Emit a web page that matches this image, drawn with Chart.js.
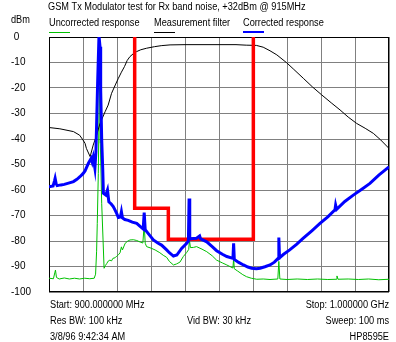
<!DOCTYPE html>
<html>
<head>
<meta charset="utf-8">
<script src="https://cdn.jsdelivr.net/npm/chart.js@4/dist/chart.umd.min.js"></script>
<style>
html,body{margin:0;padding:0;background:#fff;}
canvas{display:block;}
</style>
</head>
<body>
<canvas id="c" width="396" height="342"></canvas>
<script>
// ---- Data (frequency in MHz, level in dBm) ----
const titleText = "GSM Tx Modulator test for Rx band noise, +32dBm @ 915MHz";
const yUnit = "dBm";
const seriesNames = ["Uncorrected response", "Measurement filter", "Corrected response"];

const uncorrMHz = [900,901.3,901.7,901.9,902.2,903,904.5,906,907.5,909,910.5,912,913.3,913.7,914.0,914.2,914.5,914.8,915.0,915.1,915.5,915.9,916.2,916.6,917.0,917.4,917.9,918.4,918.8,919.4,920.0,920.5,920.9,921.3,921.6,922.4,923.1,923.8,924.8,925.8,926.8,927.6,928.0,928.3,928.7,930,931.2,932.6,933.6,934.6,935.4,936.6,937.5,938.5,939.5,940.5,941.1,941.3,941.6,942.5,943.4,945,946.4,948,949.3,951,952.3,953.5,954.1,954.3,954.5,955.5,957,958.1,959.5,961.1,963,965,967.3,967.6,967.9,970,973,976,979,982,984.5,984.7,985,988,991,994,997,1000];
const uncorrDbm = [-94.6,-94.8,-92.5,-91.4,-94.3,-94.9,-94.5,-94.9,-94.6,-94.9,-94.6,-94.8,-94.6,-93.0,-84.0,-73.1,-53.5,-19.5,-22,-41.7,-65.2,-79.6,-90.7,-89.6,-88.8,-87.9,-87.5,-87.8,-86.8,-86.6,-85.8,-85.3,-84.6,-82.3,-83.5,-80.9,-80.1,-79.6,-79.5,-79.8,-80.4,-80.8,-73.7,-80.9,-82.2,-82.8,-83.5,-84.6,-85.6,-86.4,-88.0,-89.4,-89.0,-88.3,-86.1,-84.5,-83.3,-79.6,-82.6,-82.5,-82.2,-83.2,-84.2,-85.8,-87.5,-88.6,-89.4,-90.2,-90.6,-86.8,-90.9,-91.8,-93.2,-94.0,-94.6,-95.0,-94.9,-95.1,-94.9,-88.0,-94.9,-95.1,-94.9,-95.1,-94.9,-95.1,-95.0,-93.7,-95.0,-94.9,-95.1,-94.9,-95.2,-95.0];

const filterMHz = [900,903.2,907.2,909,910,910.6,911,912.1,913,914,915,916.5,917.4,918.4,919.5,920.4,921.3,922.2,923,923.8,925,925.8,927,928.7,931,933,935.6,940,950,955,958,961,963,965,967,969.9,972,974.8,977.5,980.2,983,985.6,988,990.5,993,995.4,997.5,1000];
const filterDbm = [-35.5,-36,-37.1,-38.5,-40.4,-41.7,-43.7,-46.9,-42.4,-38.5,-33.9,-29.3,-26.7,-22.1,-18.8,-16.2,-13.8,-11.6,-9.2,-7.7,-6.3,-5.7,-5.0,-4.4,-3.8,-3.4,-3.1,-3.0,-3.0,-3.0,-3.2,-3.3,-4.0,-5.4,-7.0,-10.1,-12.7,-16.2,-19.6,-22.7,-25.8,-28.6,-31.4,-33.9,-35.8,-37.8,-40.3,-43.7];

const corrMHz = [900,901.2,901.6,901.8,902.1,902.4,903.5,904.5,906,907.2,908.2,909.1,910,910.6,911.6,912.4,912.7,913.0,913.5,913.8,914.0,914.3,914.7,915.0,915.2,915.5,915.8,916.0,916.7,917.2,917.6,918.3,918.9,919.4,919.9,920.4,921.0,921.3,921.6,922.3,923.3,924.5,925.8,926.8,927.7,928.0,928.3,929.5,930.7,932,933.1,934.6,935.4,936.6,937.6,939,940.5,941.0,941.2,941.4,941.7,943.4,944.3,944.6,946.4,948,949.3,951,952.3,954.1,954.3,954.5,955.8,957.2,958.5,959.6,961,962.1,963.5,965,966.3,967.4,967.6,967.8,969,970.8,972.8,974.8,977.3,979.7,982,984.1,984.3,984.6,987,989.5,992,994.4,997,1000];
const corrDbm = [-58.7,-58.4,-56.5,-55.4,-57.5,-58.3,-58.0,-57.8,-57.2,-56.7,-55.8,-54.8,-53.6,-52.5,-49.5,-47.6,-49.0,-47.2,-51.5,-45,-34.5,-18.2,0.5,-3.8,-20.8,-40.4,-51.6,-61.3,-62.0,-60.0,-64.6,-65.5,-66.5,-67.8,-69.2,-70.8,-70.6,-68.5,-70.9,-71.6,-71.9,-72.6,-73.1,-74.3,-75.3,-68.9,-75.6,-77.6,-79.6,-80.8,-81.6,-83.5,-84.6,-85.9,-85.5,-82.9,-80.9,-80.0,-63.3,-79.2,-79.1,-78.9,-78.0,-79.2,-80.3,-82.2,-83.8,-85.2,-86.1,-86.8,-80.9,-87.2,-88.4,-89.4,-90.2,-90.7,-90.9,-90.7,-90.1,-89.4,-88.3,-86.8,-78.6,-86.6,-85.2,-83.5,-81.3,-78.9,-76.0,-73.1,-70.5,-67.8,-65.9,-67.6,-64.5,-62.0,-59.7,-57.4,-54.2,-50.9];

const maskMHz = [925.2,925.2,935.1,935.1,960.1,960.1];
const maskDbm = [0.5,-67.2,-67.2,-79.3,-79.3,0.5];

const footerLeft  = ["Start: 900.000000 MHz", "Res BW: 100 kHz", "3/8/96 9:42:34 AM"];
const footerMid   = ["", "Vid BW: 30 kHz", ""];
const footerRight = ["Stop: 1.000000 GHz", "Sweep: 100 ms", "HP8595E"];

function pts(xs, ys){ return xs.map((x,i)=>({x:x, y:ys[i]})); }

const FONT = '"Liberation Sans", Arial, sans-serif';
const SQUEEZE = 0.92;

function txt(ctx, s, x, y, align){
  ctx.textAlign = align || 'left';
  const w = ctx.measureText(s).width;
  ctx.fillText(s, x, y, w * SQUEEZE);
}

const annotPlugin = {
  id: 'annot',
  beforeDatasetsDraw(chart){
    const {ctx, chartArea:a} = chart;
    ctx.save();
    ctx.strokeStyle = '#000';
    ctx.lineWidth = 1;
    ctx.strokeRect(Math.round(a.left)+0.5, Math.round(a.top)+0.5, Math.round(a.right-a.left)-1, Math.round(a.bottom-a.top)-1);
    ctx.restore();
  },
  afterDraw(chart){
    const {ctx, chartArea:a} = chart;
    ctx.save();
    ctx.fillStyle = '#000';
    ctx.textBaseline = 'middle';
    ctx.font = '10px ' + FONT;
    txt(ctx, titleText, 48, 7, 'left');
    txt(ctx, yUnit, 11, 20, 'left');
    // legend
    const legX = [49, 154, 243];
    chart.data.datasets.forEach(ds => {
      const idx = seriesNames.indexOf(ds.label);
      if (idx < 0) return;
      const x = legX[idx];
      ctx.fillStyle = '#000';
      txt(ctx, ds.label, x, 23, 'left');
      ctx.strokeStyle = ds.borderColor;
      ctx.lineWidth = idx === 2 ? 2 : 1;
      ctx.beginPath();
      const ly = idx === 2 ? 32 : 32.5;
      ctx.moveTo(x, ly); ctx.lineTo(x + 21, ly);
      ctx.stroke();
    });
    // footer
    ctx.fillStyle = '#000';
    const rows = [305, 321, 337];
    rows.forEach((y,i)=>{
      txt(ctx, footerLeft[i], a.left + 1, y, 'left');
      if (footerMid[i]) txt(ctx, footerMid[i], 187, y, 'left');
      txt(ctx, footerRight[i], a.right, y, 'right');
    });
    ctx.restore();
  }
};

new Chart(document.getElementById('c'), {
  type: 'line',
  data: {
    datasets: [
      { label: seriesNames[2], data: pts(corrMHz, corrDbm), borderColor: '#0000ff', borderWidth: 3, order: 0 },
      { label: 'Mask', data: pts(maskMHz, maskDbm), borderColor: '#ff0000', borderWidth: 3.5, order: 1, borderJoinStyle: 'miter' },
      { label: seriesNames[1], data: pts(filterMHz, filterDbm), borderColor: '#000000', borderWidth: 1, order: 2 },
      { label: seriesNames[0], data: pts(uncorrMHz, uncorrDbm), borderColor: '#00c000', borderWidth: 1, order: 3 }
    ]
  },
  options: {
    responsive: false,
    animation: false,
    events: [],
    elements: { point: { radius: 0 }, line: { tension: 0, fill: false } },
    layout: { padding: { left: 11, top: 37, right: 7, bottom: 50 } },
    plugins: { legend: { display: false }, title: { display: false }, tooltip: { enabled: false } },
    scales: {
      x: {
        type: 'linear', min: 900, max: 1000,
        ticks: { display: false, stepSize: 10 },
        grid: { color: '#808080', drawTicks: false, lineWidth: 1 },
        border: { display: false },
        afterFit(axis){ axis.height = 0; }
      },
      y: {
        type: 'linear', min: -100, max: 0,
        ticks: {
          stepSize: 10, crossAlign: 'far', padding: 0, color: '#000',
          font: { family: FONT, size: 10 },
          callback: v => (v === 0 ? ' 0' : String(v))
        },
        grid: { color: '#808080', drawTicks: false, lineWidth: 1 },
        border: { display: false },
        afterFit(axis){ axis.width = 38; }
      }
    }
  },
  plugins: [annotPlugin]
});
</script>
</body>
</html>
